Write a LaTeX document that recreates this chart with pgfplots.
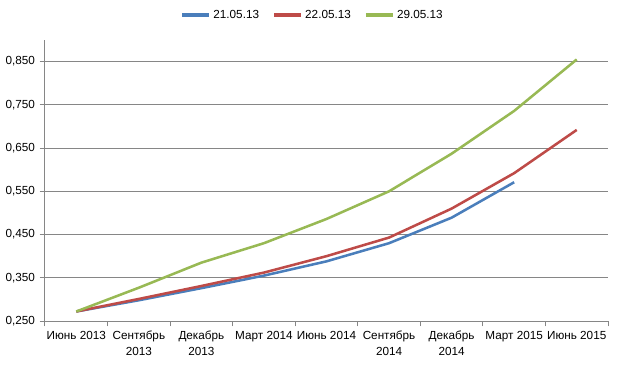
\documentclass[border=0pt]{standalone}
\usepackage{pgfplots}
\pgfplotsset{compat=1.18}
\usepackage{fontspec}
\setmainfont{Liberation Sans}
\definecolor{sblue}{HTML}{4A7EBB}
\definecolor{sred}{HTML}{BE4B48}
\definecolor{sgreen}{HTML}{98B954}
\definecolor{gridc}{HTML}{868686}
\begin{document}
\begin{tikzpicture}[x=0.75pt,y=0.75pt]
\begin{axis}[
  at={(0,0)}, anchor=south west,
  scale only axis,
  width=422.25pt, height=210.75pt,
  xmin=-0.5, xmax=8.5,
  ymin=0.25, ymax=0.9,
  axis lines*=left,
  axis line style={gridc, line width=0.75pt},
  x axis line style={-},
  y axis line style={-},
  xtick={-0.5,0.5,...,8.5},
  xticklabels={},
  extra x ticks={0,...,8},
  extra x tick labels={{Июнь 2013},{Сентябрь\\2013},{Декабрь\\2013},{Март 2014},{Июнь 2014},{Сентябрь\\2014},{Декабрь\\2014},{Март 2015},{Июнь 2015}},
  extra x tick style={major tick length=0pt, grid=none, xticklabel style={yshift=-4pt}},
  xticklabel style={align=center, font=\fontsize{8.8}{12}\selectfont, text=black, anchor=north},
  x tick style={draw=gridc, line width=0.75pt},
  ytick={0.25,0.35,...,0.86},
  yticklabel style={/pgf/number format/fixed, /pgf/number format/fixed zerofill, /pgf/number format/precision=3, /pgf/number format/use comma, /pgf/number format/assume math mode=true, font=\fontsize{8.8}{10}\selectfont, text=black},
  y tick style={draw=gridc, line width=0.75pt},
  major tick length=4pt,
  tick align=outside,
  ymajorgrids,
  major grid style={gridc, line width=0.75pt},
  legend columns=3,
  legend style={draw=none, fill=none, at={(0.476,1.089)}, anchor=center, font=\fontsize{8.8}{10}\selectfont, /tikz/every even column/.append style={column sep=8pt}},
  legend image code/.code={\draw[#1, line width=2.6pt] (0pt,0pt) -- (20pt,0pt);},
  every axis plot/.append style={line width=1.9pt, no marks, line join=round},
]
\addplot[sblue] coordinates {(0,0.272) (1,0.298) (2,0.326) (3,0.355) (4,0.388) (5,0.430) (6,0.489) (7,0.571)};
\addlegendentry{21.05.13}
\addplot[sred] coordinates {(0,0.272) (1,0.301) (2,0.331) (3,0.362) (4,0.400) (5,0.443) (6,0.510) (7,0.592) (8,0.692)};
\addlegendentry{22.05.13}
\addplot[sgreen] coordinates {(0,0.272) (1,0.327) (2,0.385) (3,0.430) (4,0.486) (5,0.550) (6,0.637) (7,0.736) (8,0.855)};
\addlegendentry{29.05.13}
\end{axis}
\path[use as bounding box] (-45,-47) rectangle (575,321);
\end{tikzpicture}
\end{document}
